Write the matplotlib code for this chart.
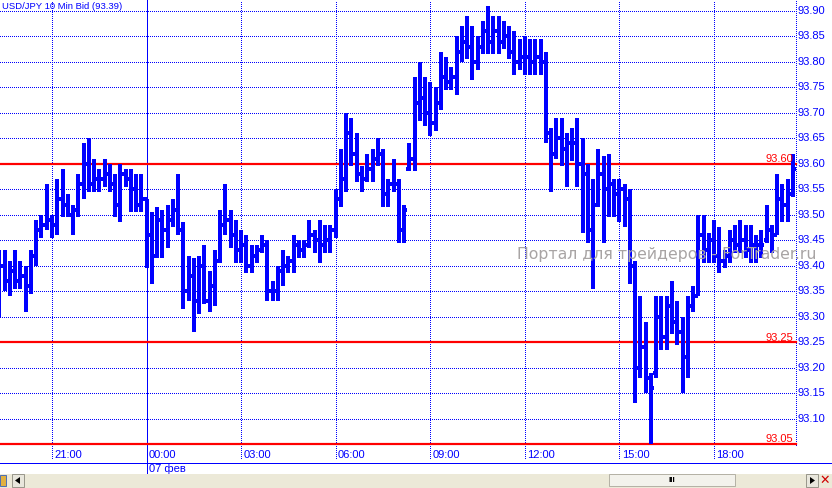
import matplotlib
matplotlib.use("Agg")
import numpy as np
import matplotlib.pyplot as plt
from matplotlib.lines import Line2D
from matplotlib.patches import Rectangle, Polygon
import matplotlib.transforms as mtransforms

# ---------------- data (USD/JPY, 10-minute bars) ----------------
highs = [93.43, 93.43, 93.41, 93.43, 93.41, 93.40, 93.43, 93.49, 93.50, 93.56,
         93.50, 93.57, 93.59, 93.54, 93.52, 93.58, 93.64, 93.65, 93.61, 93.59,
         93.61, 93.60, 93.58, 93.60, 93.59, 93.59, 93.58, 93.58, 93.53, 93.505,
         93.515, 93.51, 93.52, 93.53, 93.58, 93.485, 93.42, 93.415, 93.42, 93.44,
         93.39, 93.43, 93.51, 93.56, 93.51, 93.49, 93.47, 93.46, 93.44, 93.44,
         93.46, 93.45, 93.37, 93.40, 93.43, 93.42, 93.46, 93.45, 93.45, 93.49,
         93.47, 93.49, 93.48, 93.48, 93.55, 93.63, 93.70, 93.69, 93.66, 93.595,
         93.62, 93.63, 93.65, 93.63, 93.57, 93.61, 93.57, 93.52, 93.64, 93.77,
         93.80, 93.77, 93.76, 93.75, 93.82, 93.81, 93.79, 93.85, 93.87, 93.89,
         93.87, 93.85, 93.88, 93.91, 93.89, 93.89, 93.88, 93.87, 93.86, 93.845,
         93.85, 93.845, 93.845, 93.845, 93.82, 93.67, 93.69, 93.69, 93.66, 93.67,
         93.69, 93.65, 93.60, 93.57, 93.63, 93.615, 93.62, 93.57, 93.57, 93.56,
         93.55, 93.41, 93.34, 93.29, 93.19, 93.34, 93.34, 93.34, 93.37, 93.33,
         93.30, 93.34, 93.36, 93.50, 93.50, 93.465, 93.49, 93.475, 93.43, 93.47,
         93.48, 93.49, 93.48, 93.48, 93.46, 93.47, 93.52, 93.48, 93.58, 93.56,
         93.57, 93.62]
lows = [93.30, 93.35, 93.34, 93.355, 93.355, 93.31, 93.345, 93.40, 93.455, 93.47,
        93.455, 93.46, 93.495, 93.495, 93.46, 93.495, 93.53, 93.545, 93.545, 93.545,
        93.555, 93.545, 93.495, 93.485, 93.555, 93.505, 93.505, 93.505, 93.395, 93.365,
        93.415, 93.415, 93.435, 93.475, 93.46, 93.315, 93.33, 93.27, 93.305, 93.325,
        93.31, 93.32, 93.405, 93.46, 93.435, 93.405, 93.405, 93.385, 93.385, 93.405,
        93.425, 93.33, 93.33, 93.33, 93.36, 93.385, 93.385, 93.415, 93.415, 93.435,
        93.425, 93.405, 93.425, 93.425, 93.455, 93.515, 93.545, 93.595, 93.565, 93.545,
        93.565, 93.565, 93.595, 93.515, 93.515, 93.545, 93.445, 93.445, 93.585, 93.585,
        93.685, 93.675, 93.655, 93.665, 93.705, 93.745, 93.745, 93.735, 93.80, 93.805,
        93.765, 93.785, 93.815, 93.815, 93.815, 93.815, 93.825, 93.805, 93.775, 93.785,
        93.775, 93.775, 93.775, 93.775, 93.64, 93.545, 93.61, 93.595, 93.555, 93.605,
        93.555, 93.465, 93.445, 93.355, 93.515, 93.445, 93.495, 93.495, 93.485, 93.475,
        93.365, 93.13, 93.18, 93.15, 93.05, 93.18, 93.235, 93.235, 93.265, 93.245,
        93.15, 93.18, 93.31, 93.34, 93.405, 93.405, 93.405, 93.385, 93.395, 93.405,
        93.425, 93.425, 93.415, 93.405, 93.405, 93.415, 93.445, 93.425, 93.46, 93.485,
        93.485, 93.535]
opens = [93.33, 93.40, 93.37, 93.39, 93.37, 93.38, 93.36, 93.42, 93.47, 93.48,
         93.49, 93.48, 93.53, 93.52, 93.50, 93.51, 93.56, 93.60, 93.56, 93.57,
         93.57, 93.58, 93.56, 93.52, 93.58, 93.57, 93.55, 93.52, 93.53, 93.46,
         93.42, 93.49, 93.47, 93.49, 93.51, 93.47, 93.35, 93.38, 93.33, 93.40,
         93.33, 93.36, 93.41, 93.48, 93.49, 93.46, 93.43, 93.44, 93.40, 93.42,
         93.43, 93.44, 93.35, 93.35, 93.39, 93.40, 93.41, 93.44, 93.43, 93.44,
         93.46, 93.45, 93.44, 93.45, 93.47, 93.53, 93.57, 93.66, 93.62, 93.58,
         93.57, 93.59, 93.61, 93.62, 93.54, 93.56, 93.56, 93.47, 93.59, 93.61,
         93.72, 93.73, 93.70, 93.68, 93.72, 93.77, 93.76, 93.77, 93.82, 93.84,
         93.83, 93.80, 93.83, 93.86, 93.84, 93.86, 93.84, 93.85, 93.82, 93.80,
         93.81, 93.81, 93.80, 93.81, 93.80, 93.66, 93.62, 93.65, 93.63, 93.64,
         93.64, 93.60, 93.58, 93.47, 93.52, 93.58, 93.55, 93.56, 93.54, 93.55,
         93.53, 93.40, 93.20, 93.24, 93.18, 93.19, 93.30, 93.26, 93.32, 93.29,
         93.27, 93.22, 93.32, 93.34, 93.46, 93.43, 93.45, 93.42, 93.41, 93.42,
         93.45, 93.44, 93.45, 93.43, 93.44, 93.44, 93.45, 93.47, 93.46, 93.53,
         93.52, 93.54]
closes = [93.40, 93.37, 93.39, 93.37, 93.38, 93.36, 93.42, 93.47, 93.48, 93.49,
          93.48, 93.53, 93.52, 93.50, 93.51, 93.56, 93.60, 93.56, 93.57, 93.57,
          93.58, 93.56, 93.52, 93.58, 93.57, 93.55, 93.52, 93.53, 93.46, 93.42,
          93.49, 93.47, 93.49, 93.51, 93.47, 93.35, 93.38, 93.33, 93.40, 93.33,
          93.36, 93.41, 93.48, 93.49, 93.46, 93.43, 93.44, 93.40, 93.42, 93.43,
          93.44, 93.35, 93.35, 93.39, 93.40, 93.41, 93.44, 93.43, 93.44, 93.46,
          93.45, 93.44, 93.45, 93.47, 93.53, 93.57, 93.66, 93.62, 93.58, 93.57,
          93.59, 93.61, 93.62, 93.54, 93.56, 93.56, 93.47, 93.51, 93.61, 93.72,
          93.73, 93.70, 93.68, 93.72, 93.77, 93.76, 93.77, 93.82, 93.84, 93.83,
          93.80, 93.83, 93.86, 93.84, 93.86, 93.84, 93.85, 93.82, 93.80, 93.81,
          93.81, 93.80, 93.81, 93.80, 93.66, 93.62, 93.65, 93.63, 93.64, 93.64,
          93.60, 93.58, 93.47, 93.52, 93.58, 93.55, 93.56, 93.54, 93.55, 93.53,
          93.40, 93.20, 93.24, 93.18, 93.16, 93.30, 93.26, 93.32, 93.29, 93.27,
          93.22, 93.32, 93.34, 93.46, 93.43, 93.45, 93.42, 93.41, 93.42, 93.45,
          93.44, 93.45, 93.43, 93.44, 93.44, 93.44, 93.47, 93.46, 93.53, 93.52,
          93.54, 93.59]

grid_prices = [93.10, 93.15, 93.20, 93.25, 93.30, 93.35, 93.40, 93.45, 93.50,
               93.55, 93.60, 93.65, 93.70, 93.75, 93.80, 93.85, 93.90]
price_labels = ["93.10", "93.15", "93.20", "93.25", "93.30", "93.35", "93.40",
                "93.45", "93.50", "93.55", "93.60", "93.65", "93.70", "93.75",
                "93.80", "93.85", "93.90"]
level_prices = [93.60, 93.25, 93.05]
level_labels = ["93.60", "93.25", "93.05"]
time_bars = [10, 28, 46, 64, 82, 100, 118, 136]
time_labels = ["21:00", "00:00", "03:00", "06:00", "09:00", "12:00", "15:00", "18:00"]
day_bar = 28
day_label = "07 фев"
title = "USD/JPY 10 Min Bid (93.39)"
watermark = "Портал для трейдеров - ForTrader.ru"

# ---------------- figure ----------------
W, H = 832, 488
BLUE = "#0000FF"
RED = "#FF0000"
plt.rcParams['font.family'] = ['Liberation Sans', 'DejaVu Sans']
fig = plt.figure(figsize=(W / 100, H / 100), dpi=100)
fig.patch.set_facecolor("white")


def fx(px):
    return px / W


def fy(py):
    return 1 - py / H


ax = fig.add_axes([0, fy(445), 796 / W, 445 / H])
ax.set_xlim(0.103, 151.6)
ax.set_ylim(93.048, 93.9216)
ax.axis("off")

PT = 0.72  # one pixel in points
dot = (0, (1, 2))

# horizontal grid
for p in grid_prices:
    ax.axhline(p, color=BLUE, lw=PT, ls=dot, zorder=1, antialiased=False)
# vertical grid
for b in time_bars:
    if b == day_bar:
        ax.axvline(b, ymin=-30 / 445, ymax=1, color=BLUE, lw=PT,
                   zorder=1, clip_on=False, antialiased=False)
    else:
        ax.axvline(b, ymin=-13 / 445, ymax=1, color=BLUE, lw=PT, ls=dot,
                   zorder=1, clip_on=False, antialiased=False)
ax.axvline(151.6, ymin=0, ymax=1, color=BLUE, lw=PT, ls=dot, zorder=1,
           clip_on=False, antialiased=False)

# watermark (behind bars)
fig.text(fx(517), fy(255), watermark, color="#A8A4A4", fontsize=11.3,
         ha="left", va="center", zorder=1.5, family=['DejaVu Sans'])

# level lines
blend = mtransforms.blended_transform_factory(ax.transAxes, ax.transData)
for p, lab in zip(level_prices, level_labels):
    ax.axhline(p, color=RED, lw=PT * 2.2, zorder=2, clip_on=False)
    ax.text(793 / 796, p, lab,
            transform=blend + mtransforms.ScaledTranslation(0, 1.5 / 100, fig.dpi_scale_trans),
            color=RED, fontsize=8, ha="right", va="baseline", zorder=5)

# OHLC bars
x = np.arange(len(highs))
tick = 0.55
ax.vlines(x, lows, highs, color=BLUE, lw=PT * 2.2, zorder=3, antialiased=False,
          capstyle="butt")
ax.hlines(opens, x - tick, x, color=BLUE, lw=PT * 2.2, zorder=3, antialiased=False)
ax.hlines(closes, x, x + tick, color=BLUE, lw=PT * 2.2, zorder=3, antialiased=False)

# price axis labels
for p, lab in zip(grid_prices, price_labels):
    ax.text(1 + 2 / 796, p, lab, transform=blend, color=BLUE, fontsize=8,
            ha="left", va="center", clip_on=False, zorder=4)

# time labels
xblend = mtransforms.blended_transform_factory(ax.transData, fig.transFigure)
for b, lab in zip(time_bars, time_labels):
    ax.text(b + 0.45, fy(455.5), lab, transform=xblend, color=BLUE,
            fontsize=8, ha="left", va="center", clip_on=False)
ax.text(day_bar + 0.45, fy(469), day_label, transform=xblend, color=BLUE,
        fontsize=8, ha="left", va="center", clip_on=False)

# title
fig.text(fx(2), fy(6.5), title, color=BLUE, fontsize=6.8, ha="left", va="center")

# bottom separator line
fig.add_artist(Line2D([0, 1], [fy(462.5)] * 2, transform=fig.transFigure,
                      color=BLUE, lw=PT, antialiased=False))

# scroll bar strip
fig.add_artist(Rectangle((0, 0), 1, 14 / H, transform=fig.transFigure,
                         facecolor="#ECE9D8", edgecolor="none"))
fig.add_artist(Rectangle((fx(609), fy(486)), 126 / W, 12 / H, transform=fig.transFigure,
                         facecolor="#F3F2EC", edgecolor="#B5B2A6", lw=PT))
fig.text(fx(672), fy(480.5), "III", fontsize=6, ha="center", va="center",
         color="black", weight="bold")
# right arrow button
fig.add_artist(Rectangle((fx(806), fy(487)), 12 / W, 13 / H, transform=fig.transFigure,
                         facecolor="#E8E6DC", edgecolor="#9A988C", lw=PT))
fig.add_artist(Polygon([[fx(810), fy(484)], [fx(810), fy(477)], [fx(815), fy(480.5)]],
                       closed=True, transform=fig.transFigure, facecolor="black",
                       edgecolor="none"))
fig.text(fx(825), fy(480.5), "✕", fontsize=9, ha="center", va="center",
         color="#D00000", weight="bold", family=['DejaVu Sans'])
# left buttons
fig.add_artist(Rectangle((fx(12), fy(487)), 12 / W, 13 / H, transform=fig.transFigure,
                         facecolor="#E8E6DC", edgecolor="#9A988C", lw=PT))
fig.add_artist(Polygon([[fx(20), fy(484)], [fx(20), fy(477)], [fx(15), fy(480.5)]],
                       closed=True, transform=fig.transFigure, facecolor="black",
                       edgecolor="none"))
fig.add_artist(Rectangle((0, fy(486)), 6 / W, 11 / H, transform=fig.transFigure,
                         facecolor="#E0B040", edgecolor="#5070B0", lw=PT))

fig.savefig("out.png", dpi=100, facecolor="white")
